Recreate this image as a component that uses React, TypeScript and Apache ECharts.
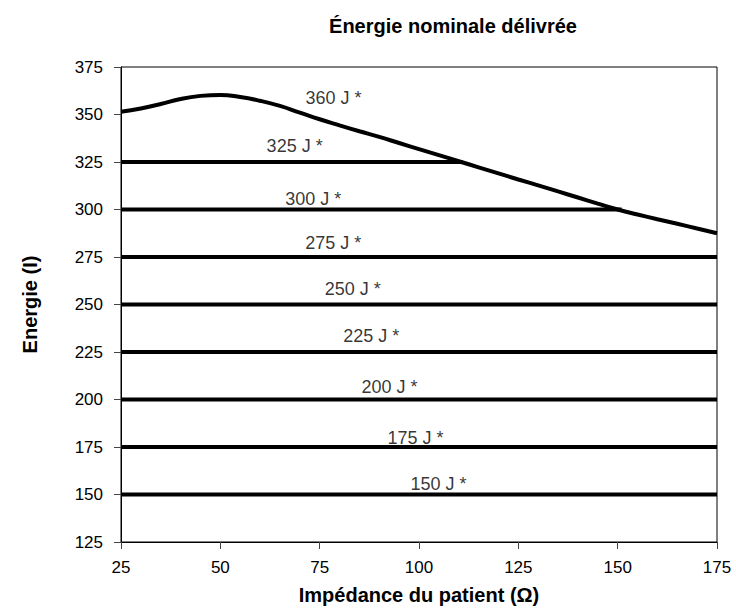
import React, { useEffect, useRef } from "react";
import * as echarts from "echarts";

const FONT = "'Liberation Sans', Arial, sans-serif";

// Maximum delivered energy curve (360 J setting)
const curveX = [25, 30, 35, 40, 45, 50, 55, 60, 65, 70, 75, 80, 85, 90, 95, 100, 105, 110, 115, 120, 125, 130, 135, 140, 145, 150, 155, 160, 165, 170, 175];
const curveY = [351.5, 353.2, 355.5, 358.2, 359.8, 360.3, 359.2, 357.2, 354.5, 351, 347.5, 344.3, 341.2, 338.2, 335.0, 331.8, 328.6, 325.4, 322.2, 319.0, 315.8, 312.7, 309.5, 306.3, 303.1, 300.0, 297.4, 294.9, 292.5, 290.0, 287.5];

// Constant energy levels and the impedance where each line stops
const levels = [150, 175, 200, 225, 250, 275, 300, 325];
const levelStart = [25, 25, 25, 25, 25, 25, 25, 25];
const levelEnd = [175, 175, 175, 175, 175, 175, 151, 111];

// Annotation texts and their anchors (data units)
const labelTexts = ["360 J *", "325 J *", "300 J *", "275 J *", "250 J *", "225 J *", "200 J *", "175 J *", "150 J *"];
const labelX = [78.5, 68.7, 73.4, 78.4, 83.3, 88.0, 92.6, 99.1, 104.9];
const labelY = [358.7, 333.4, 305.5, 282.4, 258.2, 233.4, 206.6, 179.7, 155.5];

const xTicks = { min: 25, max: 175, interval: 25 };
const yTicks = { min: 125, max: 375, interval: 25 };

export default function App() {
  const ref = useRef<HTMLDivElement>(null);

  useEffect(() => {
    if (!ref.current) return;
    const chart = echarts.init(ref.current, null, { renderer: "svg" });

    const levelSeries = levels.map((lv, i) => ({
      type: "line",
      data: [
        [levelStart[i], lv],
        [levelEnd[i], lv],
      ],
      symbol: "none",
      lineStyle: { color: "#000", width: 4 },
      z: 3,
    }));

    chart.setOption({
      animation: false,
      backgroundColor: "#fff",
      title: {
        text: "Énergie nominale délivrée",
        left: 448,
        top: 11,
        textAlign: "center",
        textStyle: { fontFamily: FONT, fontSize: 20, fontWeight: "bold", color: "#000" },
      },
      grid: {
        left: 121,
        right: 19,
        top: 67,
        bottom: 69,
        show: true,
        borderColor: "#000",
        borderWidth: 1,
        backgroundColor: "transparent",
      },
      xAxis: {
        type: "value",
        min: xTicks.min,
        max: xTicks.max,
        interval: xTicks.interval,
        name: "Impédance du patient (Ω)",
        nameLocation: "middle",
        nameGap: 43,
        nameTextStyle: { fontFamily: FONT, fontSize: 20, fontWeight: "bold", color: "#000" },
        axisLine: { show: true, lineStyle: { color: "#000", width: 1 } },
        axisTick: { show: true, length: 7, lineStyle: { color: "#444" } },
        axisLabel: { fontFamily: FONT, fontSize: 17, color: "#000", margin: 17 },
        splitLine: { show: false },
      },
      yAxis: {
        type: "value",
        min: yTicks.min,
        max: yTicks.max,
        interval: yTicks.interval,
        name: "Energie (I)",
        nameLocation: "middle",
        nameGap: 81,
        nameTextStyle: { fontFamily: FONT, fontSize: 20, fontWeight: "bold", color: "#000" },
        axisLine: { show: true, lineStyle: { color: "#000", width: 1 } },
        axisTick: { show: true, length: 7, lineStyle: { color: "#444" } },
        axisLabel: { fontFamily: FONT, fontSize: 17, color: "#000", margin: 18 },
        splitLine: { show: false },
      },
      series: [
        {
          type: "line",
          data: curveX.map((x, i) => [x, curveY[i]]),
          smooth: true,
          symbol: "none",
          lineStyle: { color: "#000", width: 4 },
          z: 4,
        },
        ...levelSeries,
        {
          type: "scatter",
          data: labelX.map((x, i) => ({ value: [x, labelY[i]], name: labelTexts[i] })),
          symbolSize: 1,
          itemStyle: { color: "transparent" },
          label: {
            show: true,
            position: "inside",
            formatter: (p: any) => p.name,
            fontFamily: FONT,
            fontSize: 18,
            color: "#000",
          },
          z: 5,
        },
      ],
    });

    return () => chart.dispose();
  }, []);

  return (
    <div
      ref={ref}
      style={{ position: "absolute", left: 0, top: 0, width: 736, height: 611 }}
    />
  );
}
